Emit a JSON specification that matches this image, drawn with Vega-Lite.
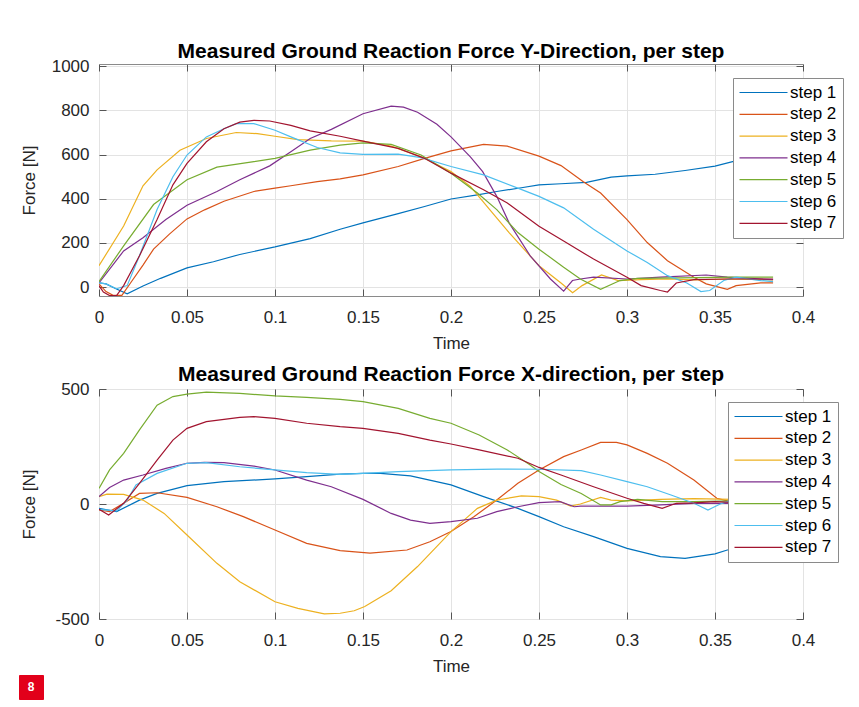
{
  "$schema": "https://vega.github.io/schema/vega-lite/v6.json",
  "background": "white",
  "padding": {"left": 18, "top": 40, "right": 5, "bottom": 0},
  "columns": 1,
  "spacing": 0,
  "align": "none",
  "config": {
    "font": "Liberation Sans",
    "view": {"stroke": "#8a8a8a", "strokeWidth": 1},
    "axis": {
      "domain": false,
      "gridColor": "#e3e3e3",
      "gridWidth": 1,
      "tickColor": "#555",
      "tickSize": -7,
      "labelFont": "Liberation Sans",
      "labelFontSize": 17,
      "labelColor": "#262626",
      "labelFlush": false,
      "titleFont": "Liberation Sans",
      "titleFontSize": 17,
      "titleFontWeight": "normal",
      "titleColor": "#262626"
    },
    "axisX": {"labelPadding": 20.5, "titlePadding": 10},
    "axisY": {"labelPadding": 17, "titlePadding": 1, "minExtent": 60, "maxExtent": 60},
    "axisTop": {"labels": false, "grid": false, "minExtent": 0, "maxExtent": 0},
    "axisRight": {"labels": false, "grid": false, "minExtent": 0, "maxExtent": 0},
    "title": {"font": "Liberation Sans", "fontSize": 21, "fontWeight": "bold", "color": "#000", "frame": "group", "baseline": "alphabetic", "offset": -5},
    "legend": {
      "orient": "none",
      "title": null,
      "symbolType": "M-4.8,0H4.8",
      "symbolSize": 100,
      "symbolStrokeWidth": 1.5,
      "symbolOffset": 16,
      "labelOffset": 18,
      "labelFont": "Liberation Sans",
      "labelFontSize": 17,
      "labelColor": "#000",
      "rowPadding": 3.8,
      "padding": 6,
      "fillColor": "white",
      "strokeColor": "#8a8a8a"
    },
    "line": {"strokeWidth": 1.2}
  },
  "datasets": {
    "fy": [
      {"s":"step 1","t":0,"f":20},{"s":"step 1","t":0.004,"f":15},{"s":"step 1","t":0.009,"f":-5},{"s":"step 1","t":0.016,"f":-30},{"s":"step 1","t":0.025,"f":5},{"s":"step 1","t":0.035,"f":40},{"s":"step 1","t":0.05,"f":87},{"s":"step 1","t":0.065,"f":115},{"s":"step 1","t":0.08,"f":148},{"s":"step 1","t":0.1,"f":182},{"s":"step 1","t":0.12,"f":220},{"s":"step 1","t":0.137,"f":262},{"s":"step 1","t":0.15,"f":291},{"s":"step 1","t":0.17,"f":333},{"s":"step 1","t":0.185,"f":365},{"s":"step 1","t":0.2,"f":399},{"s":"step 1","t":0.215,"f":418},{"s":"step 1","t":0.226,"f":433},{"s":"step 1","t":0.24,"f":450},{"s":"step 1","t":0.25,"f":463},{"s":"step 1","t":0.2625,"f":468},{"s":"step 1","t":0.277,"f":474},{"s":"step 1","t":0.291,"f":498},{"s":"step 1","t":0.3,"f":504},{"s":"step 1","t":0.316,"f":511},{"s":"step 1","t":0.333,"f":528},{"s":"step 1","t":0.35,"f":548},{"s":"step 1","t":0.36,"f":568},{"s":"step 1","t":0.372,"f":580},{"s":"step 1","t":0.383,"f":592},
      {"s":"step 2","t":0,"f":15},{"s":"step 2","t":0.004,"f":-20},{"s":"step 2","t":0.008,"f":-37},{"s":"step 2","t":0.013,"f":-37},{"s":"step 2","t":0.018,"f":20},{"s":"step 2","t":0.025,"f":100},{"s":"step 2","t":0.031,"f":172},{"s":"step 2","t":0.04,"f":240},{"s":"step 2","t":0.05,"f":309},{"s":"step 2","t":0.06,"f":350},{"s":"step 2","t":0.071,"f":389},{"s":"step 2","t":0.088,"f":433},{"s":"step 2","t":0.1,"f":448},{"s":"step 2","t":0.109,"f":459},{"s":"step 2","t":0.124,"f":478},{"s":"step 2","t":0.137,"f":490},{"s":"step 2","t":0.15,"f":508},{"s":"step 2","t":0.17,"f":546},{"s":"step 2","t":0.185,"f":583},{"s":"step 2","t":0.2,"f":617},{"s":"step 2","t":0.2185,"f":646},{"s":"step 2","t":0.232,"f":638},{"s":"step 2","t":0.25,"f":593},{"s":"step 2","t":0.2625,"f":550},{"s":"step 2","t":0.275,"f":478},{"s":"step 2","t":0.285,"f":426},{"s":"step 2","t":0.3,"f":306},{"s":"step 2","t":0.3115,"f":202},{"s":"step 2","t":0.323,"f":120},{"s":"step 2","t":0.338,"f":45},{"s":"step 2","t":0.345,"f":15},{"s":"step 2","t":0.357,"f":-10},{"s":"step 2","t":0.362,"f":7},{"s":"step 2","t":0.376,"f":19},{"s":"step 2","t":0.383,"f":19},
      {"s":"step 3","t":0,"f":97},{"s":"step 3","t":0.014,"f":277},{"s":"step 3","t":0.025,"f":459},{"s":"step 3","t":0.033,"f":531},{"s":"step 3","t":0.046,"f":620},{"s":"step 3","t":0.061,"f":673},{"s":"step 3","t":0.078,"f":700},{"s":"step 3","t":0.09,"f":695},{"s":"step 3","t":0.1,"f":683},{"s":"step 3","t":0.113,"f":668},{"s":"step 3","t":0.132,"f":662},{"s":"step 3","t":0.15,"f":661},{"s":"step 3","t":0.166,"f":638},{"s":"step 3","t":0.183,"f":590},{"s":"step 3","t":0.2,"f":523},{"s":"step 3","t":0.211,"f":456},{"s":"step 3","t":0.222,"f":351},{"s":"step 3","t":0.233,"f":247},{"s":"step 3","t":0.25,"f":97},{"s":"step 3","t":0.2625,"f":19},{"s":"step 3","t":0.2691,"f":-25},{"s":"step 3","t":0.2745,"f":7},{"s":"step 3","t":0.2855,"f":55},{"s":"step 3","t":0.295,"f":30},{"s":"step 3","t":0.308,"f":34},{"s":"step 3","t":0.323,"f":37},{"s":"step 3","t":0.338,"f":33},{"s":"step 3","t":0.357,"f":37},{"s":"step 3","t":0.383,"f":33},
      {"s":"step 4","t":0,"f":19},{"s":"step 4","t":0.014,"f":164},{"s":"step 4","t":0.025,"f":224},{"s":"step 4","t":0.038,"f":306},{"s":"step 4","t":0.05,"f":371},{"s":"step 4","t":0.067,"f":433},{"s":"step 4","t":0.08,"f":486},{"s":"step 4","t":0.097,"f":549},{"s":"step 4","t":0.109,"f":613},{"s":"step 4","t":0.12,"f":673},{"s":"step 4","t":0.132,"f":714},{"s":"step 4","t":0.15,"f":785},{"s":"step 4","t":0.166,"f":819},{"s":"step 4","t":0.173,"f":815},{"s":"step 4","t":0.181,"f":792},{"s":"step 4","t":0.192,"f":737},{"s":"step 4","t":0.2,"f":680},{"s":"step 4","t":0.211,"f":590},{"s":"step 4","t":0.218,"f":523},{"s":"step 4","t":0.226,"f":411},{"s":"step 4","t":0.233,"f":291},{"s":"step 4","t":0.245,"f":142},{"s":"step 4","t":0.2565,"f":37},{"s":"step 4","t":0.264,"f":-18},{"s":"step 4","t":0.269,"f":30},{"s":"step 4","t":0.2735,"f":37},{"s":"step 4","t":0.281,"f":45},{"s":"step 4","t":0.3,"f":37},{"s":"step 4","t":0.319,"f":45},{"s":"step 4","t":0.345,"f":55},{"s":"step 4","t":0.357,"f":45},{"s":"step 4","t":0.383,"f":34},
      {"s":"step 5","t":0,"f":25},{"s":"step 5","t":0.014,"f":187},{"s":"step 5","t":0.031,"f":374},{"s":"step 5","t":0.05,"f":486},{"s":"step 5","t":0.067,"f":543},{"s":"step 5","t":0.088,"f":568},{"s":"step 5","t":0.1,"f":583},{"s":"step 5","t":0.12,"f":620},{"s":"step 5","t":0.137,"f":643},{"s":"step 5","t":0.15,"f":653},{"s":"step 5","t":0.166,"f":646},{"s":"step 5","t":0.183,"f":598},{"s":"step 5","t":0.2,"f":516},{"s":"step 5","t":0.215,"f":426},{"s":"step 5","t":0.226,"f":351},{"s":"step 5","t":0.238,"f":247},{"s":"step 5","t":0.25,"f":172},{"s":"step 5","t":0.264,"f":90},{"s":"step 5","t":0.2735,"f":37},{"s":"step 5","t":0.285,"f":-10},{"s":"step 5","t":0.296,"f":30},{"s":"step 5","t":0.306,"f":40},{"s":"step 5","t":0.33,"f":42},{"s":"step 5","t":0.36,"f":45},{"s":"step 5","t":0.383,"f":45},
      {"s":"step 6","t":0,"f":19},{"s":"step 6","t":0.004,"f":15},{"s":"step 6","t":0.01,"f":-7},{"s":"step 6","t":0.016,"f":7},{"s":"step 6","t":0.023,"f":142},{"s":"step 6","t":0.033,"f":351},{"s":"step 6","t":0.042,"f":500},{"s":"step 6","t":0.05,"f":598},{"s":"step 6","t":0.061,"f":680},{"s":"step 6","t":0.071,"f":717},{"s":"step 6","t":0.078,"f":740},{"s":"step 6","t":0.088,"f":740},{"s":"step 6","t":0.1,"f":710},{"s":"step 6","t":0.109,"f":680},{"s":"step 6","t":0.124,"f":632},{"s":"step 6","t":0.137,"f":608},{"s":"step 6","t":0.15,"f":601},{"s":"step 6","t":0.17,"f":602},{"s":"step 6","t":0.183,"f":586},{"s":"step 6","t":0.2,"f":546},{"s":"step 6","t":0.2185,"f":508},{"s":"step 6","t":0.238,"f":448},{"s":"step 6","t":0.25,"f":411},{"s":"step 6","t":0.264,"f":359},{"s":"step 6","t":0.281,"f":262},{"s":"step 6","t":0.3,"f":164},{"s":"step 6","t":0.3115,"f":112},{"s":"step 6","t":0.323,"f":52},{"s":"step 6","t":0.334,"f":19},{"s":"step 6","t":0.342,"f":-20},{"s":"step 6","t":0.347,"f":-15},{"s":"step 6","t":0.355,"f":30},{"s":"step 6","t":0.362,"f":45},{"s":"step 6","t":0.376,"f":30},{"s":"step 6","t":0.383,"f":25},
      {"s":"step 7","t":0,"f":7},{"s":"step 7","t":0.0025,"f":-22},{"s":"step 7","t":0.006,"f":-38},{"s":"step 7","t":0.01,"f":-38},{"s":"step 7","t":0.014,"f":7},{"s":"step 7","t":0.023,"f":142},{"s":"step 7","t":0.033,"f":306},{"s":"step 7","t":0.042,"f":463},{"s":"step 7","t":0.05,"f":560},{"s":"step 7","t":0.061,"f":658},{"s":"step 7","t":0.071,"f":717},{"s":"step 7","t":0.08,"f":747},{"s":"step 7","t":0.088,"f":755},{"s":"step 7","t":0.097,"f":752},{"s":"step 7","t":0.109,"f":732},{"s":"step 7","t":0.12,"f":707},{"s":"step 7","t":0.137,"f":683},{"s":"step 7","t":0.15,"f":661},{"s":"step 7","t":0.17,"f":628},{"s":"step 7","t":0.185,"f":583},{"s":"step 7","t":0.2,"f":516},{"s":"step 7","t":0.2185,"f":441},{"s":"step 7","t":0.232,"f":381},{"s":"step 7","t":0.25,"f":276},{"s":"step 7","t":0.264,"f":209},{"s":"step 7","t":0.281,"f":127},{"s":"step 7","t":0.3,"f":45},{"s":"step 7","t":0.308,"f":7},{"s":"step 7","t":0.319,"f":-15},{"s":"step 7","t":0.323,"f":-22},{"s":"step 7","t":0.328,"f":19},{"s":"step 7","t":0.338,"f":34},{"s":"step 7","t":0.357,"f":37},{"s":"step 7","t":0.383,"f":37}
    ],
    "fx": [
      {"s":"step 1","t":0,"f":-19},{"s":"step 1","t":0.01,"f":-33},{"s":"step 1","t":0.023,"f":17},{"s":"step 1","t":0.033,"f":46},{"s":"step 1","t":0.05,"f":80},{"s":"step 1","t":0.071,"f":97},{"s":"step 1","t":0.1,"f":109},{"s":"step 1","t":0.118,"f":119},{"s":"step 1","t":0.137,"f":130},{"s":"step 1","t":0.15,"f":133},{"s":"step 1","t":0.16,"f":133},{"s":"step 1","t":0.177,"f":122},{"s":"step 1","t":0.2,"f":83},{"s":"step 1","t":0.2185,"f":32},{"s":"step 1","t":0.238,"f":-19},{"s":"step 1","t":0.25,"f":-55},{"s":"step 1","t":0.264,"f":-99},{"s":"step 1","t":0.281,"f":-142},{"s":"step 1","t":0.3,"f":-193},{"s":"step 1","t":0.319,"f":-229},{"s":"step 1","t":0.333,"f":-236},{"s":"step 1","t":0.35,"f":-217},{"s":"step 1","t":0.357,"f":-200},{"s":"step 1","t":0.37,"f":-185},{"s":"step 1","t":0.383,"f":-170},
      {"s":"step 2","t":0,"f":-26},{"s":"step 2","t":0.006,"f":-33},{"s":"step 2","t":0.014,"f":3},{"s":"step 2","t":0.023,"f":46},{"s":"step 2","t":0.033,"f":49},{"s":"step 2","t":0.05,"f":29},{"s":"step 2","t":0.067,"f":-12},{"s":"step 2","t":0.082,"f":-55},{"s":"step 2","t":0.1,"f":-113},{"s":"step 2","t":0.118,"f":-171},{"s":"step 2","t":0.137,"f":-203},{"s":"step 2","t":0.154,"f":-214},{"s":"step 2","t":0.175,"f":-200},{"s":"step 2","t":0.188,"f":-164},{"s":"step 2","t":0.2,"f":-120},{"s":"step 2","t":0.213,"f":-55},{"s":"step 2","t":0.226,"f":17},{"s":"step 2","t":0.238,"f":90},{"s":"step 2","t":0.25,"f":148},{"s":"step 2","t":0.264,"f":206},{"s":"step 2","t":0.274,"f":235},{"s":"step 2","t":0.285,"f":268},{"s":"step 2","t":0.294,"f":268},{"s":"step 2","t":0.3,"f":257},{"s":"step 2","t":0.3115,"f":220},{"s":"step 2","t":0.323,"f":177},{"s":"step 2","t":0.338,"f":104},{"s":"step 2","t":0.351,"f":25},{"s":"step 2","t":0.357,"f":14},{"s":"step 2","t":0.37,"f":10},{"s":"step 2","t":0.383,"f":10},
      {"s":"step 3","t":0,"f":32},{"s":"step 3","t":0.0045,"f":43},{"s":"step 3","t":0.014,"f":42},{"s":"step 3","t":0.025,"f":17},{"s":"step 3","t":0.037,"f":-41},{"s":"step 3","t":0.05,"f":-135},{"s":"step 3","t":0.067,"f":-258},{"s":"step 3","t":0.08,"f":-338},{"s":"step 3","t":0.1,"f":-425},{"s":"step 3","t":0.113,"f":-454},{"s":"step 3","t":0.128,"f":-478},{"s":"step 3","t":0.137,"f":-475},{"s":"step 3","t":0.145,"f":-464},{"s":"step 3","t":0.151,"f":-446},{"s":"step 3","t":0.166,"f":-377},{"s":"step 3","t":0.181,"f":-272},{"s":"step 3","t":0.2,"f":-120},{"s":"step 3","t":0.215,"f":-19},{"s":"step 3","t":0.226,"f":17},{"s":"step 3","t":0.24,"f":35},{"s":"step 3","t":0.25,"f":32},{"s":"step 3","t":0.26,"f":17},{"s":"step 3","t":0.268,"f":-9},{"s":"step 3","t":0.2735,"f":0},{"s":"step 3","t":0.285,"f":29},{"s":"step 3","t":0.291,"f":17},{"s":"step 3","t":0.3,"f":14},{"s":"step 3","t":0.319,"f":20},{"s":"step 3","t":0.338,"f":23},{"s":"step 3","t":0.36,"f":20},{"s":"step 3","t":0.383,"f":20},
      {"s":"step 4","t":0,"f":32},{"s":"step 4","t":0.006,"f":72},{"s":"step 4","t":0.014,"f":104},{"s":"step 4","t":0.025,"f":126},{"s":"step 4","t":0.038,"f":155},{"s":"step 4","t":0.05,"f":177},{"s":"step 4","t":0.06,"f":181},{"s":"step 4","t":0.071,"f":180},{"s":"step 4","t":0.088,"f":165},{"s":"step 4","t":0.1,"f":148},{"s":"step 4","t":0.118,"f":104},{"s":"step 4","t":0.132,"f":75},{"s":"step 4","t":0.15,"f":20},{"s":"step 4","t":0.166,"f":-41},{"s":"step 4","t":0.177,"f":-70},{"s":"step 4","t":0.188,"f":-84},{"s":"step 4","t":0.2,"f":-77},{"s":"step 4","t":0.215,"f":-62},{"s":"step 4","t":0.226,"f":-33},{"s":"step 4","t":0.238,"f":-12},{"s":"step 4","t":0.25,"f":6},{"s":"step 4","t":0.262,"f":10},{"s":"step 4","t":0.27,"f":-12},{"s":"step 4","t":0.2735,"f":-9},{"s":"step 4","t":0.3,"f":-9},{"s":"step 4","t":0.319,"f":-4},{"s":"step 4","t":0.338,"f":3},{"s":"step 4","t":0.36,"f":3},{"s":"step 4","t":0.383,"f":3},
      {"s":"step 5","t":0,"f":68},{"s":"step 5","t":0.006,"f":148},{"s":"step 5","t":0.014,"f":220},{"s":"step 5","t":0.023,"f":322},{"s":"step 5","t":0.033,"f":430},{"s":"step 5","t":0.042,"f":467},{"s":"step 5","t":0.05,"f":478},{"s":"step 5","t":0.061,"f":486},{"s":"step 5","t":0.08,"f":481},{"s":"step 5","t":0.1,"f":470},{"s":"step 5","t":0.118,"f":464},{"s":"step 5","t":0.137,"f":455},{"s":"step 5","t":0.15,"f":445},{"s":"step 5","t":0.17,"f":416},{"s":"step 5","t":0.188,"f":372},{"s":"step 5","t":0.2,"f":351},{"s":"step 5","t":0.216,"f":300},{"s":"step 5","t":0.232,"f":235},{"s":"step 5","t":0.245,"f":170},{"s":"step 5","t":0.25,"f":141},{"s":"step 5","t":0.2625,"f":85},{"s":"step 5","t":0.274,"f":46},{"s":"step 5","t":0.285,"f":-4},{"s":"step 5","t":0.291,"f":-4},{"s":"step 5","t":0.296,"f":10},{"s":"step 5","t":0.306,"f":20},{"s":"step 5","t":0.32,"f":10},{"s":"step 5","t":0.338,"f":10},{"s":"step 5","t":0.36,"f":14},{"s":"step 5","t":0.383,"f":15},
      {"s":"step 6","t":0,"f":-23},{"s":"step 6","t":0.01,"f":-30},{"s":"step 6","t":0.016,"f":17},{"s":"step 6","t":0.021,"f":83},{"s":"step 6","t":0.033,"f":133},{"s":"step 6","t":0.05,"f":177},{"s":"step 6","t":0.061,"f":180},{"s":"step 6","t":0.08,"f":162},{"s":"step 6","t":0.1,"f":148},{"s":"step 6","t":0.118,"f":136},{"s":"step 6","t":0.137,"f":129},{"s":"step 6","t":0.15,"f":133},{"s":"step 6","t":0.17,"f":141},{"s":"step 6","t":0.2,"f":148},{"s":"step 6","t":0.226,"f":152},{"s":"step 6","t":0.25,"f":151},{"s":"step 6","t":0.274,"f":145},{"s":"step 6","t":0.285,"f":126},{"s":"step 6","t":0.3,"f":97},{"s":"step 6","t":0.3115,"f":75},{"s":"step 6","t":0.325,"f":39},{"s":"step 6","t":0.338,"f":3},{"s":"step 6","t":0.346,"f":-26},{"s":"step 6","t":0.353,"f":0},{"s":"step 6","t":0.357,"f":10},{"s":"step 6","t":0.37,"f":8},{"s":"step 6","t":0.383,"f":5},
      {"s":"step 7","t":0,"f":-23},{"s":"step 7","t":0.0055,"f":-48},{"s":"step 7","t":0.014,"f":3},{"s":"step 7","t":0.023,"f":90},{"s":"step 7","t":0.033,"f":191},{"s":"step 7","t":0.042,"f":278},{"s":"step 7","t":0.05,"f":329},{"s":"step 7","t":0.061,"f":358},{"s":"step 7","t":0.08,"f":377},{"s":"step 7","t":0.088,"f":380},{"s":"step 7","t":0.1,"f":372},{"s":"step 7","t":0.118,"f":351},{"s":"step 7","t":0.137,"f":336},{"s":"step 7","t":0.15,"f":329},{"s":"step 7","t":0.17,"f":307},{"s":"step 7","t":0.188,"f":278},{"s":"step 7","t":0.2,"f":261},{"s":"step 7","t":0.216,"f":235},{"s":"step 7","t":0.238,"f":199},{"s":"step 7","t":0.25,"f":159},{"s":"step 7","t":0.2625,"f":126},{"s":"step 7","t":0.281,"f":75},{"s":"step 7","t":0.3,"f":25},{"s":"step 7","t":0.3095,"f":3},{"s":"step 7","t":0.32,"f":-19},{"s":"step 7","t":0.328,"f":3},{"s":"step 7","t":0.338,"f":5},{"s":"step 7","t":0.35,"f":10},{"s":"step 7","t":0.365,"f":5},{"s":"step 7","t":0.383,"f":5}
    ]
  },
  "concat": [
    {
      "title": "Measured Ground Reaction Force Y-Direction, per step",
      "width": 704,
      "height": 232,
      "data": {"name": "fy"},
      "layer": [
        {
          "mark": {"type": "line", "clip": true},
          "encoding": {
            "x": {"field": "t", "type": "quantitative", "title": "Time",
                  "scale": {"domain": [0, 0.4], "nice": false, "zero": false},
                  "axis": {"values": [0, 0.05, 0.1, 0.15, 0.2, 0.25, 0.3, 0.35, 0.4], "format": "~g"}},
            "y": {"field": "f", "type": "quantitative", "title": "Force [N]",
                  "scale": {"domain": [-40, 1010], "nice": false, "zero": false},
                  "axis": {"values": [0, 200, 400, 600, 800, 1000], "format": "d"}},
            "color": {"field": "s", "type": "nominal",
                      "scale": {"domain": ["step 1","step 2","step 3","step 4","step 5","step 6","step 7"],
                                "range": ["#0072BD","#D95319","#EDB120","#7E2F8E","#77AC30","#4DBEEE","#A2142F"]},
                      "legend": {"legendX": 634, "legendY": 14}},
            "order": {"field": "t", "type": "quantitative"}
          }
        },
        {
          "mark": {"type": "point", "opacity": 0},
          "encoding": {
            "x": {"field": "t", "type": "quantitative",
                  "axis": {"orient": "top", "title": null, "values": [0, 0.05, 0.1, 0.15, 0.2, 0.25, 0.3, 0.35, 0.4]}},
            "y": {"field": "f", "type": "quantitative",
                  "axis": {"orient": "right", "title": null, "values": [0, 200, 400, 600, 800, 1000]}}
          }
        }
      ],
      "resolve": {"axis": {"x": "independent", "y": "independent"}}
    },
    {
      "title": {"text": ["", "Measured Ground Reaction Force X-direction, per step"], "lineHeight": 11},
      "width": 704,
      "height": 230,
      "layer": [
        {
          "data": {"name": "fx"},
          "mark": {"type": "line", "clip": true},
          "encoding": {
            "x": {"field": "t", "type": "quantitative", "title": "Time",
                  "scale": {"domain": [0, 0.4], "nice": false, "zero": false},
                  "axis": {"values": [0, 0.05, 0.1, 0.15, 0.2, 0.25, 0.3, 0.35, 0.4], "format": "~g"}},
            "y": {"field": "f", "type": "quantitative", "title": "Force [N]",
                  "scale": {"domain": [-500, 500], "nice": false, "zero": false},
                  "axis": {"values": [-500, 0, 500], "labelExpr": "datum.value < 0 ? '-' + abs(datum.value) : datum.label"}},
            "color": {"field": "s", "type": "nominal",
                      "scale": {"domain": ["step 1","step 2","step 3","step 4","step 5","step 6","step 7"],
                                "range": ["#0072BD","#D95319","#EDB120","#7E2F8E","#77AC30","#4DBEEE","#A2142F"]},
                      "legend": {"legendX": 629, "legendY": 13}},
            "order": {"field": "t", "type": "quantitative"}
          }
        },
        {
          "data": {"name": "fx"},
          "mark": {"type": "point", "opacity": 0},
          "encoding": {
            "x": {"field": "t", "type": "quantitative",
                  "axis": {"orient": "top", "title": null, "values": [0, 0.05, 0.1, 0.15, 0.2, 0.25, 0.3, 0.35, 0.4]}},
            "y": {"field": "f", "type": "quantitative",
                  "axis": {"orient": "right", "title": null, "values": [-500, 0, 500]}}
          }
        },
        {
          "data": {"values": [{"badge": "8"}]},
          "mark": {"type": "point", "opacity": 0},
          "encoding": {
            "shape": {"field": "badge", "type": "nominal",
                      "scale": {"domain": ["8"], "range": ["square"]},
                      "legend": {"orient": "none", "legendX": -80, "legendY": 611, "title": null,
                                 "symbolType": "square", "symbolSize": 121, "symbolOpacity": 0, "symbolStrokeWidth": 0,
                                 "symbolOffset": 0, "labelOffset": -6, "labelAlign": "center",
                                 "labelColor": "white", "labelFontWeight": "bold", "labelFontSize": 12,
                                 "fillColor": "#e2001a", "strokeColor": "#e2001a", "padding": 6, "rowPadding": 0}}
          }
        }
      ],
      "resolve": {"axis": {"x": "independent", "y": "independent"}}
    }
  ],
  "resolve": {"legend": {"color": "independent"}}
}
